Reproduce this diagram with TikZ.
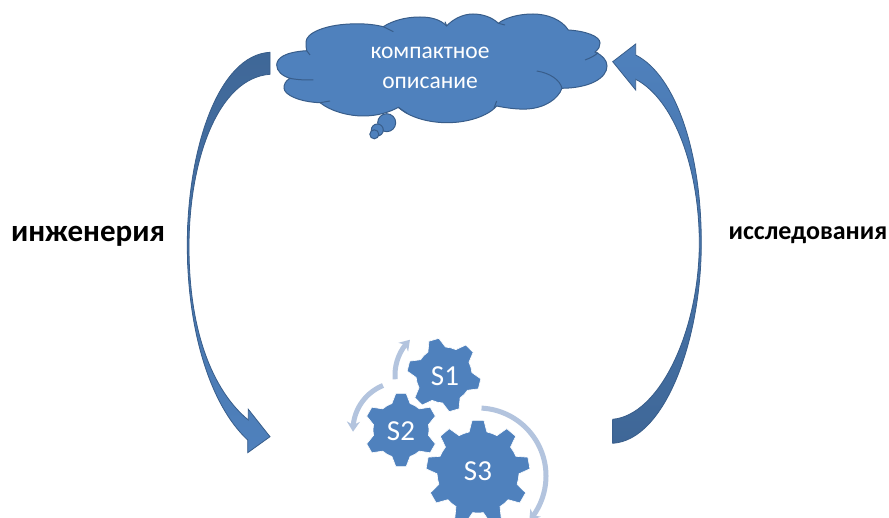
\documentclass[tikz,border=0pt]{standalone}
\usepackage{fontspec}
\setmainfont{Carlito}
\usetikzlibrary{arrows.meta,bending}
\definecolor{cloudblue}{HTML}{4F81BD}
\definecolor{edgeblue}{HTML}{385D8A}
\definecolor{darkblue}{HTML}{3F6797}
\definecolor{paleblue}{HTML}{B3C4DE}
\tikzset{
  bigarrow/.style={draw=edgeblue,line width=0.8pt,line join=miter},
  turn/.style={draw=paleblue,line width=5pt,-{Stealth[length=10pt,width=13pt,flex=1]}},
  cloudtext/.style={text=white,font=\fontsize{23.5}{24}\selectfont},
  geartext/.style={text=white,font=\fontsize{29}{29}\selectfont},
  sidetext/.style={font=\fontsize{31}{31}\selectfont\bfseries}
}
% #1 centre, #2 root radius, #3 tip radius, #4 teeth, #5 first tooth, #6 root half angle, #7 tip half angle
\newcommand{\gearwheel}[7]{
  \fill[cloudblue,draw=white,line width=0.6pt,shift={(#1)}] ({#5-#6}:#2)
    \foreach \k [evaluate=\k as \a using {#5+(\k-1)*360/#4}] in {1,...,#4} {
      -- ({\a-#7}:#3) -- ({\a+#7}:#3) -- ({\a+#6}:#2)
      arc[start angle={\a+#6},end angle={\a+360/#4-#6},radius=#2]
    } -- cycle;
}
\begin{document}
\begin{tikzpicture}[x=1pt,y=-1pt]
   \clip (0,0) rectangle (889,518);
   \fill[white] (0,0) rectangle (889,518);
   % left arrow
   \shade[bigarrow,top color=darkblue,bottom color=cloudblue]
    (270,52.3) .. controls (218,55) and (187.3,150) .. (187.3,245)
    .. controls (187.3,330) and (210,405) .. (247.7,440)
    -- (247.7,452.7) -- (270,436.7) -- (248.3,409.3) -- (248.3,420)
    .. controls (212,390) and (189,330) .. (189,247)
    .. controls (189,160) and (218,78) .. (270,74.3) -- cycle;
   % right arrow
   \shade[bigarrow,top color=cloudblue,bottom color=darkblue]
    (612.7,443.3) .. controls (665,440) and (701.3,340) .. (701.3,243)
    .. controls (701.3,150) and (675,75) .. (635.7,55)
    -- (635.7,44) -- (612.7,61.7) -- (635.7,90) -- (635.7,79.3)
    .. controls (675,100) and (699.3,170) .. (699.3,243)
    .. controls (699.3,330) and (660,415) .. (612.7,419.3) -- cycle;
   % cloud
   \filldraw[cloudblue,draw=edgeblue,line width=1pt]
    (306.7,50.7) .. controls (285,52) and (276.7,58) .. (276.7,65)
    .. controls (276.7,71) and (282,76) .. (290,78.3)
    .. controls (285,81) and (284,85) .. (284,88)
    .. controls (284,95) and (300,102) .. (320,102.7)
    .. controls (332,112) and (350,116) .. (363,116)
    .. controls (378,116) and (390,112) .. (398.3,107.3)
    .. controls (410,118) and (430,122.7) .. (447,122.7)
    .. controls (468,122.7) and (488,116) .. (496.7,106)
    .. controls (506,108) and (518,109.5) .. (527,109)
    .. controls (545,108) and (558,99) .. (562,88.3)
    .. controls (590,88) and (607,78) .. (607,66)
    .. controls (607,60) and (602,55) .. (595,52)
    .. controls (599,49) and (600,46) .. (600,43)
    .. controls (600,36) and (585,31) .. (568.3,30)
    .. controls (562,20) and (548,14) .. (533,14)
    .. controls (518,14) and (505,18) .. (498.3,23.3)
    .. controls (492,17) and (482,14) .. (473,14)
    .. controls (462,14) and (452,20) .. (446.7,26)
    .. controls (440,19) and (430,17) .. (420,17)
    .. controls (405,17) and (392,21) .. (383.3,26.7)
    .. controls (372,24) and (362,23.5) .. (350,24)
    .. controls (325,25) and (306,33) .. (306,42)
    .. controls (306,45) and (306,48) .. (306.7,50.7) -- cycle;
   \draw[edgeblue,line width=1pt] (585,60) .. controls (590,58) and (595,56) .. (598,52.5);
   \draw[edgeblue,line width=1pt] (536.7,71) .. controls (550,73) and (560,80) .. (562,88.3);
   \draw[edgeblue,line width=1pt] (496.7,101) -- (494,108);
   \draw[edgeblue,line width=1pt] (398.3,107.3) -- (407,113.3);
   \draw[edgeblue,line width=1pt] (320,102.7) -- (330,101);
   \draw[edgeblue,line width=1pt] (290,78.3) .. controls (298,80) and (306,80) .. (313.3,80);
   \draw[edgeblue,line width=1pt] (306.7,50.7) -- (310,55);
   \draw[edgeblue,line width=1pt] (383.3,26.7) -- (393.3,31.7);
   \draw[edgeblue,line width=1pt] (446.7,26) -- (445,21.7);
   \draw[edgeblue,line width=1pt] (498.3,23.3) -- (505,25);
   \filldraw[cloudblue,draw=edgeblue,line width=1pt] (386.7,122.7) circle(9);
   \filldraw[cloudblue,draw=edgeblue,line width=1pt] (377.3,130) circle(6);
   \filldraw[cloudblue,draw=edgeblue,line width=1pt] (374.3,134.3) circle(4.5);
   % gears
   \gearwheel{444,375}{28}{37}{6}{-106}{19}{8}
   \gearwheel{401,430}{28}{37}{6}{-90}{19}{8}
   \gearwheel{478,472}{41}{52}{9}{-90}{12.5}{6.5}
   \draw[turn] (444,375) ++(175:49) arc[start angle=175,end angle=226,radius=49];
   \draw[turn] (401,430) ++(-112:48) arc[start angle=-112,end angle=-182,radius=48];
   \draw[turn] (478,476) ++(-87:68) arc[start angle=-87,end angle=41,radius=68];
   % labels
   \node[cloudtext] (cloudtop) at (430,53) {компактное};
   \node[cloudtext] (cloudbottom) at (430,83) {описание};
   \node[geartext] (sone) at (445,376) {S1};
   \node[geartext] (stwo) at (401,431) {S2};
   \node[geartext] (sthree) at (478,471) {S3};
   \node[sidetext] (engineering) at (88,236) {инженерия};
   \node[sidetext,font=\fontsize{26}{26}\selectfont\bfseries] (research) at (808,235) {исследования};
\end{tikzpicture}
\end{document}
